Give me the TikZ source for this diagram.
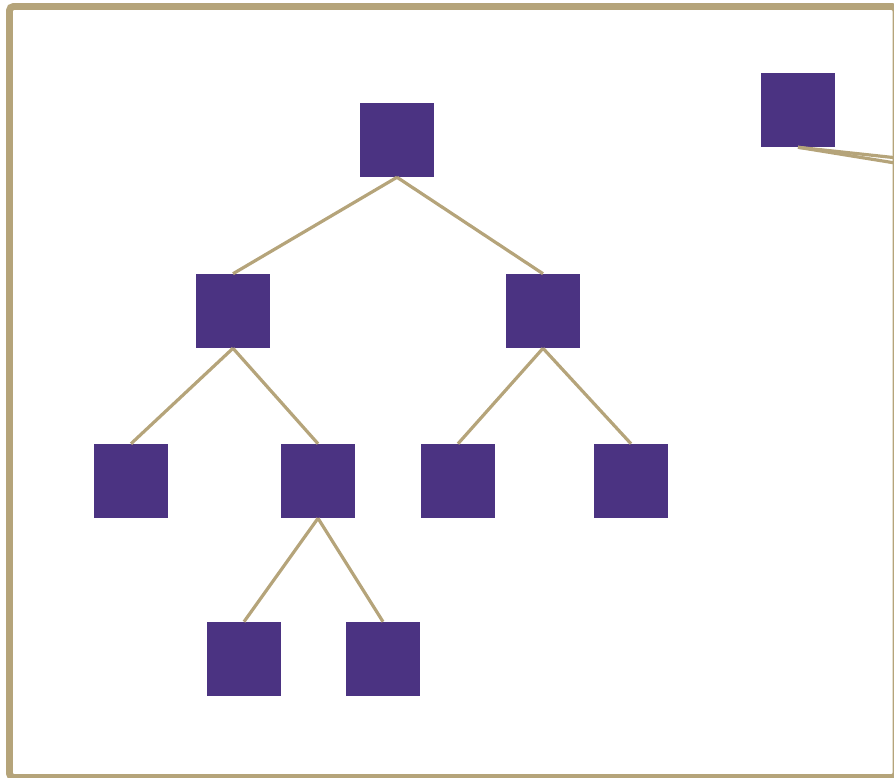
\documentclass[tikz,border=0pt]{standalone}
\usepackage{tikz}
\usepackage{xcolor}
\usetikzlibrary{positioning}
\definecolor{uwpurple}{HTML}{4B3382}
\definecolor{uwgold}{HTML}{B5A47A}

\begin{document}
\begin{tikzpicture}[
    x=0.75pt, y=-0.75pt,
    sq/.style={rectangle, fill=uwpurple, draw=none, inner sep=0pt, minimum size=55.5pt},
    edge/.style={draw=uwgold, line width=2.4pt},
    frame/.style={draw=uwgold, line width=5.2pt, rounded corners=3pt}
]
\useasboundingbox (0,0) rectangle (894,778);
\clip (0,0) rectangle (894,778);

\draw[frame] (9.5,6.5) rectangle (896,777.5);

% tree
\node[sq] (root) at (397,140) {};
\node[sq] (l) at (233,311) {};
\node[sq] (r) at (543,311) {};
\node[sq] (ll) at (131,481) {};
\node[sq] (lr) at (318,481) {};
\node[sq] (rl) at (458,481) {};
\node[sq] (rr) at (631,481) {};
\node[sq] (lrl) at (244,659) {};
\node[sq] (lrr) at (383,659) {};

% lone node, links leave the frame
\node[sq] (top) at (798,110) {};
\coordinate (out1) at (1000,169);
\coordinate (out2) at (1000,180);

\draw[edge] (root.south) -- (l.north);
\draw[edge] (root.south) -- (r.north);
\draw[edge] (l.south) -- (ll.north);
\draw[edge] (l.south) -- (lr.north);
\draw[edge] (r.south) -- (rl.north);
\draw[edge] (r.south) -- (rr.north);
\draw[edge] (lr.south) -- (lrl.north);
\draw[edge] (lr.south) -- (lrr.north);
\draw[edge] (top.south) -- (out1);
\draw[edge] (top.south) -- (out2);

\end{tikzpicture}
\end{document}
